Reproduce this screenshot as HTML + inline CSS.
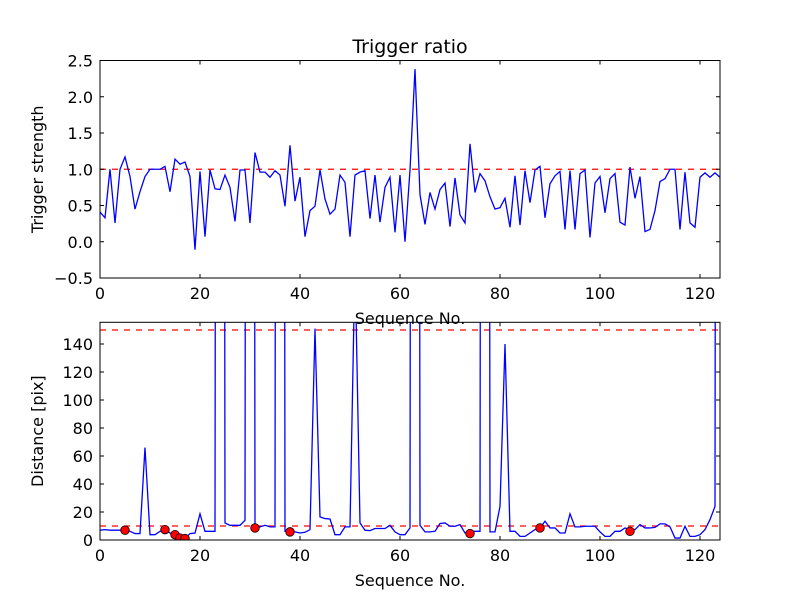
<!DOCTYPE html>
<html><head><meta charset="utf-8">
<style>
body{margin:0;background:#fff;}
svg text{font-family:"DejaVu Sans","Liberation Sans",sans-serif;fill:#000;}
</style></head>
<body>
<svg id="chart" width="800" height="600" viewBox="0 0 800 600">
<rect width="800" height="600" fill="#fff"/>
<defs>
<clipPath id="clipTop"><rect x="100" y="60.5" width="620" height="217.5"/></clipPath>
<clipPath id="clipBot"><rect x="100" y="322.3" width="620" height="217.7"/></clipPath>
</defs>
<g id="top"></g>
<g id="bot"></g>
</svg>
<script>
const triggerStrength = [0.41,0.33,1.0,0.26,1.0,1.17,0.9,0.45,0.69,0.9,1.0,1.0,1.0,1.04,0.69,1.14,1.07,1.1,0.9,-0.11,0.97,0.07,0.99,0.73,0.72,0.92,0.75,0.28,0.99,0.99,0.26,1.23,0.96,0.96,0.89,0.98,0.92,0.49,1.33,0.56,0.89,0.07,0.43,0.49,0.99,0.59,0.38,0.45,0.92,0.82,0.07,0.92,0.96,0.98,0.32,0.92,0.27,0.75,0.89,0.13,0.92,0.0,0.99,2.38,0.65,0.24,0.68,0.45,0.72,0.81,0.21,0.88,0.37,0.26,1.35,0.68,0.94,0.84,0.62,0.45,0.47,0.6,0.2,0.91,0.23,0.98,0.54,0.99,1.04,0.33,0.8,0.91,0.97,0.17,0.98,0.17,0.94,0.99,0.06,0.81,0.9,0.4,0.87,0.94,0.27,0.23,1.03,0.6,0.9,0.14,0.17,0.43,0.83,0.87,1.0,1.0,0.17,0.96,0.26,0.2,0.89,0.95,0.89,0.95,0.89];
const distance = [7,7.4,7,7,7,7,6.2,4.6,4.6,66,3.8,3.8,6.2,7.4,5,3.8,1.4,1,4.6,5,18.7,6.2,6.2,6.2,3000,12.2,10.5,10.5,10.5,14,3000,8.6,9.4,10.5,9.4,9.4,3000,6.2,5.8,5.8,5,5.5,7.4,151,16.5,15.3,15,3.8,3.8,9.4,9.4,200,12.2,7,6.7,8.2,8.2,8.2,10.5,5.8,3.8,3.8,8.6,3000,10.5,5.8,5.8,6.2,11.8,12.2,9.8,9.8,11,5,6.2,6.2,6.2,3000,5.8,5.8,24,140,6.2,6.2,2.6,2.6,5,7.4,8.6,13.4,8.6,8.6,5,5,18.7,9.4,9.4,9.8,9.8,9.8,5.8,2.6,2.6,6.2,6.2,8.6,7.4,7.4,11,8.6,8.6,9,11.5,11.5,9.4,1.4,1.4,9.8,2.6,2.6,3.8,7.4,14.6,24,3000];
const markerIdx = [5,13,15,16,17,31,38,74,88,106];
const markerVal = [7,7.4,3.8,1.4,1,8.6,5.8,4.6,8.6,6.2];
const topYTicks = [-0.5,0.0,0.5,1.0,1.5,2.0,2.5];
const topYLabels = ["\u22120.5","0.0","0.5","1.0","1.5","2.0","2.5"];
const botYTicks = [0,20,40,60,80,100,120,140];
const xTicks = [0,20,40,60,80,100,120];
const topThreshold = [1.0];
const botThresholds = [10,150];

const NS="http://www.w3.org/2000/svg";
function mk(parent,tag,attrs){const e=document.createElementNS(NS,tag);for(const k in attrs)e.setAttribute(k,attrs[k]);parent.appendChild(e);return e;}

function panel(g,cfg){
  const {x0,x1,y0,y1,xmin,xmax,ymin,ymax}=cfg;
  const sx=v=>x0+(v-xmin)/(xmax-xmin)*(x1-x0);
  const sy=v=>y1-(v-ymin)/(ymax-ymin)*(y1-y0);
  return {sx,sy};
}

function axesFrame(g,cfg,sx,sy,yTicks,yLabels,xlabel,ylabel,name){
  const {x0,x1,y0,y1}=cfg;
  xTicks.forEach(t=>{
    const x=sx(t);
    const l1=mk(g,'line',{x1:x,x2:x,y1:y1,y2:y1-4,stroke:'#000','stroke-width':1});
    
    
    const l2=mk(g,'line',{x1:x,x2:x,y1:y0,y2:y0+4,stroke:'#000','stroke-width':1});
    
    
    const tx=mk(g,'text',{x:x,y:y1+21,'text-anchor':'middle','font-size':16});
    tx.textContent=t;
    
    
  });
  yTicks.forEach((t,i)=>{
    const y=sy(t);
    const l1=mk(g,'line',{x1:x0,x2:x0+4,y1:y,y2:y,stroke:'#000','stroke-width':1});
    
    
    const l2=mk(g,'line',{x1:x1,x2:x1-4,y1:y,y2:y,stroke:'#000','stroke-width':1});
    
    
    const tx=mk(g,'text',{x:x0-7,y:y+6,'text-anchor':'end','font-size':16});
    tx.textContent=yLabels[i];
    
    
  });
  const fr=mk(g,'rect',{x:x0,y:y0,width:x1-x0,height:y1-y0,fill:'none',stroke:'#000','stroke-width':1});
  
  
  const xl=mk(g,'text',{x:(x0+x1)/2,y:y1+46,'text-anchor':'middle','font-size':16});
  xl.textContent=xlabel;
  
  
  const yl=mk(g,'text',{x:0,y:0,'text-anchor':'middle','font-size':16,transform:`translate(${x0-57},${(y0+y1)/2}) rotate(-90)`});
  yl.textContent=ylabel;
  
  
}

// top panel
const gT=document.getElementById('top');
const cT={x0:100,x1:720,y0:60.5,y1:278,xmin:0,xmax:124,ymin:-0.5,ymax:2.5};
const T=panel(gT,cT);
const gTc=mk(gT,'g',{'clip-path':'url(#clipTop)'});
topThreshold.forEach(v=>{
  const l=mk(gTc,'line',{x1:cT.x0,x2:cT.x1,y1:T.sy(v),y2:T.sy(v),stroke:'#ff0000','stroke-width':1.3,'stroke-dasharray':'6,6'});
  
  
});
const pT=mk(gTc,'polyline',{points:triggerStrength.map((v,i)=>T.sx(i)+','+T.sy(v)).join(' '),fill:'none',stroke:'#0000ff','stroke-width':1.3});


axesFrame(gT,cT,T.sx,T.sy,topYTicks,topYLabels,'Sequence No.','Trigger strength','top');
const title=mk(gT,'text',{x:410,y:53,'text-anchor':'middle','font-size':19});
title.textContent='Trigger ratio';



// bottom panel
const gB=document.getElementById('bot');
const cB={x0:100,x1:720,y0:322.3,y1:540,xmin:0,xmax:124,ymin:0,ymax:155.5};
const B=panel(gB,cB);
const gBc=mk(gB,'g',{'clip-path':'url(#clipBot)'});
botThresholds.forEach(v=>{
  const l=mk(gBc,'line',{x1:cB.x0,x2:cB.x1,y1:B.sy(v),y2:B.sy(v),stroke:'#ff0000','stroke-width':1.3,'stroke-dasharray':'6,6'});
  
  
});
const pB=mk(gBc,'polyline',{points:distance.map((v,i)=>B.sx(i)+','+B.sy(v)).join(' '),fill:'none',stroke:'#0000ff','stroke-width':1.3});


markerIdx.forEach((idx,k)=>{
  const c=mk(gBc,'circle',{cx:B.sx(idx),cy:B.sy(markerVal[k]),r:4.3,fill:'#ff0000',stroke:'#000','stroke-width':0.8});
  
  
});
axesFrame(gB,cB,B.sx,B.sy,botYTicks,botYTicks.map(String),'Sequence No.','Distance [pix]','bottom');
</script>
</body></html>
